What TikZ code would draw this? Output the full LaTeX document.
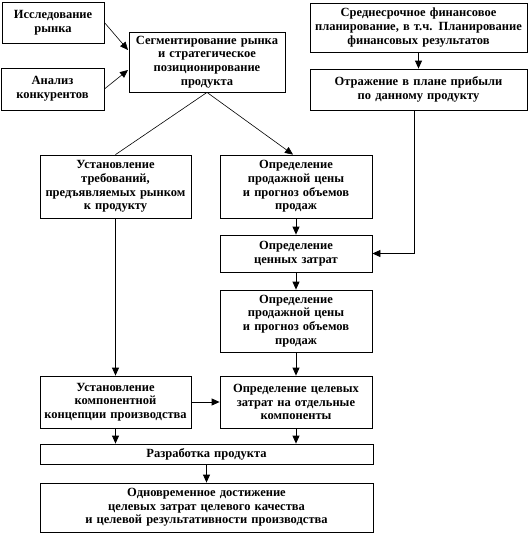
\documentclass[tikz,border=0pt]{standalone}
\usepackage{fontspec}
\setmainfont{Liberation Serif}
\usetikzlibrary{arrows.meta,calc}
\begin{document}
\begin{tikzpicture}[x=1pt,y=-1pt,
  box/.style={draw,line width=0.8pt,rectangle,inner sep=0pt,align=center,
    font=\fontsize{12.5}{13.7}\selectfont\bfseries},
  link/.style={line width=0.6pt},
  arr/.style={line width=0.8pt,-{Triangle[width=7pt,length=8pt]}},
  thinarr/.style={line width=0.6pt,-{Triangle[width=7pt,length=8pt]}}]
\useasboundingbox (0,0) rectangle (528,533);
\newcommand{\bx}[6]{\node[box,minimum width={#4-#2},minimum height={#5-#3},text width={#4-#2-2}] (#1) at ({(#2+#4)/2},{(#3+#5)/2}) {#6};}
\bx{b1}{2}{2}{104}{43}{Исследование\\рынка}
\bx{b2}{1}{68}{104}{110}{Анализ\\конкурентов}
\bx{b3}{129}{32}{285}{92}{Сегментирование рынка\\и стратегическое\\позиционирование\\продукта}
\bx{b4}{310}{3}{527}{52}{Среднесрочное финансовое\\планирование, в т.ч. Планирование\\финансовых результатов}
\bx{b5}{310}{69}{527}{110}{Отражение в плане прибыли\\по данному продукту}
\bx{b6}{40}{155}{191}{218}{Установление\\требований,\\предъявляемых рынком\\к продукту}
\bx{b7}{220}{155}{372}{218}{Определение\\продажной цены\\и прогноз объемов\\продаж}
\bx{b8}{220}{235}{372}{272}{Определение\\ценных затрат}
\bx{b9}{220}{290}{372}{352}{Определение\\продажной цены\\и прогноз объемов\\продаж}
\bx{b10}{40}{376}{191}{428}{Установление\\компонентной\\концепции производства}
\bx{b11}{220}{376}{372}{428}{Определение целевых\\затрат на отдельные\\компоненты}
\bx{b12}{40}{444}{373}{464}{Разработка продукта}
\bx{b13}{40}{483}{373}{532}{Одновременное достижение\\целевых затрат целевого качества\\и целевой результативности производства}
\coordinate (t1) at (128,50);
\coordinate (t2) at (128,70);
\draw[thinarr] (b1.east) -- (t1);
\draw[thinarr] (b2.east) -- (t2);
\draw[link] (b3.south) -- (b6.north);
\draw[thinarr] (b3.south) -- ($(b7.north)+(-3,0)$);
\draw[arr] (b4) -- (b5);
\draw[arr] ($(b5.south)+(-4,0)$) |- (b8.east);
\draw[arr] (b7) -- (b8);
\draw[arr] (b8) -- (b9);
\draw[arr] (b9) -- (b11);
\draw[arr] (b6) -- (b10);
\draw[arr] (b10) -- (b11);
\draw[arr] (b10.south) -- (b10.south |- b12.north);
\draw[arr] (b11.south) -- (b11.south |- b12.north);
\draw[arr] (b12.south) -- (b12.south |- b13.north);
\end{tikzpicture}
\end{document}
